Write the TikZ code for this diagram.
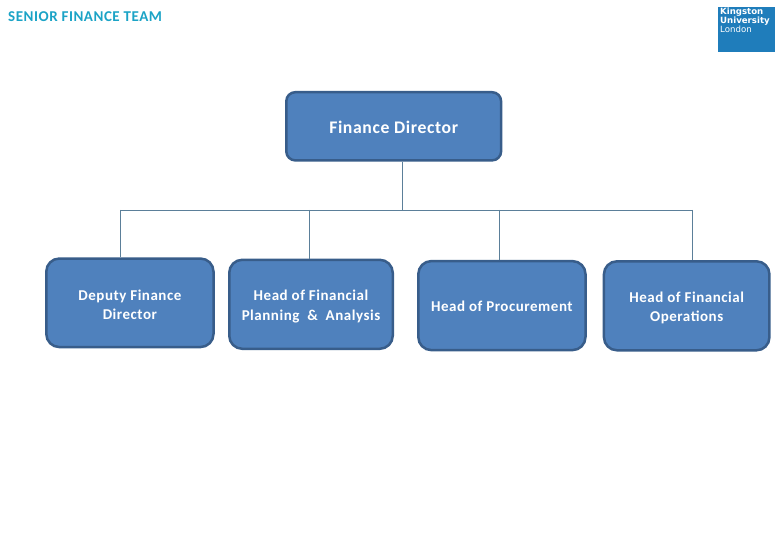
\documentclass[tikz,border=0pt]{standalone}
\usepackage{fontspec}
\setmainfont{Carlito}[LetterSpace=3.5]
\newfontfamily\logofont{DejaVu Sans}
\newcommand{\lowerline}{\rule{0pt}{14.5pt}}
\definecolor{boxfill}{HTML}{4F81BD}
\definecolor{boxline}{HTML}{385D8A}
\definecolor{linkline}{HTML}{5B7F99}
\definecolor{titleblue}{HTML}{1BA3C6}
\definecolor{logoblue}{HTML}{1F7DBB}
\tikzset{post/.style={draw=boxline,fill=boxfill,line width=2.5pt,rounded corners=13pt,text=white,font=\bfseries\fontsize{15}{19.5}\selectfont,align=center,inner sep=0pt}}
\tikzset{topPost/.style={post,rounded corners=9pt,font=\bfseries\fontsize{17.7}{21}\selectfont,minimum width=214.8pt,minimum height=68.2pt,execute at begin node=\rule{0pt}{14pt}}}
\tikzset{headPost/.style={post,minimum width=165pt,minimum height=89pt}}
\tikzset{oneLine/.style={execute at begin node=\rule{0pt}{11.5pt}}}
\tikzset{link/.style={draw=linkline,line width=0.8pt}}
\begin{document}
\begin{tikzpicture}[x=1pt,y=-1pt]
\useasboundingbox (0,0) rectangle (780,540);
\node[anchor=west,text=titleblue,font=\bfseries\fontsize{15}{17}\selectfont,inner sep=0pt](title) at (8,16.5){SENIOR FINANCE TEAM};
\node[fill=logoblue,minimum width=57pt,minimum height=45pt,inner sep=0pt](logo) at (746.5,29.5){};
\node[anchor=north west,text=white,font=\logofont\bfseries\fontsize{8.6}{8.9}\selectfont,align=left,inner sep=0pt](logotext) at (720,7.5){Kingston\\University\\\mdseries London};
\node[topPost](director) at (393.7,126.3){Finance Director};
\node[headPost,minimum width=167.2pt,minimum height=88.5pt](deputy) at (129.9,302.8){\lowerline Deputy Finance\\Director};
\node[headPost,minimum width=163.5pt,node distance=181.1pt,yshift=-1.5pt](planning)[right of=deputy]{\lowerline Head of Financial\\Planning~ \&~ Analysis};
\node[headPost,oneLine,minimum width=167.2pt,node distance=190.9pt,yshift=-1.3pt](procurement)[right of=planning]{Head of Procurement};
\node[headPost,minimum width=165.5pt,node distance=184.8pt,yshift=-0.2pt](operations)[right of=procurement]{\lowerline Head of Financial\\Operations};
\coordinate(trunk) at (402.5,210);
\coordinate(tapdeputy) at (120.5,210);
\coordinate(tapplanning) at (309.3,210);
\coordinate(tapprocurement) at (499.3,210);
\coordinate(tapoperations) at (692.5,210);
\draw[link](director.south -| trunk) -- (trunk);
\draw[link](tapdeputy) -- (tapoperations);
\draw[link](tapdeputy) -- (tapdeputy |- deputy.north);
\draw[link](tapplanning) -- (tapplanning |- planning.north);
\draw[link](tapprocurement) -- (tapprocurement |- procurement.north);
\draw[link](tapoperations) -- (tapoperations |- operations.north);
\end{tikzpicture}
\end{document}
